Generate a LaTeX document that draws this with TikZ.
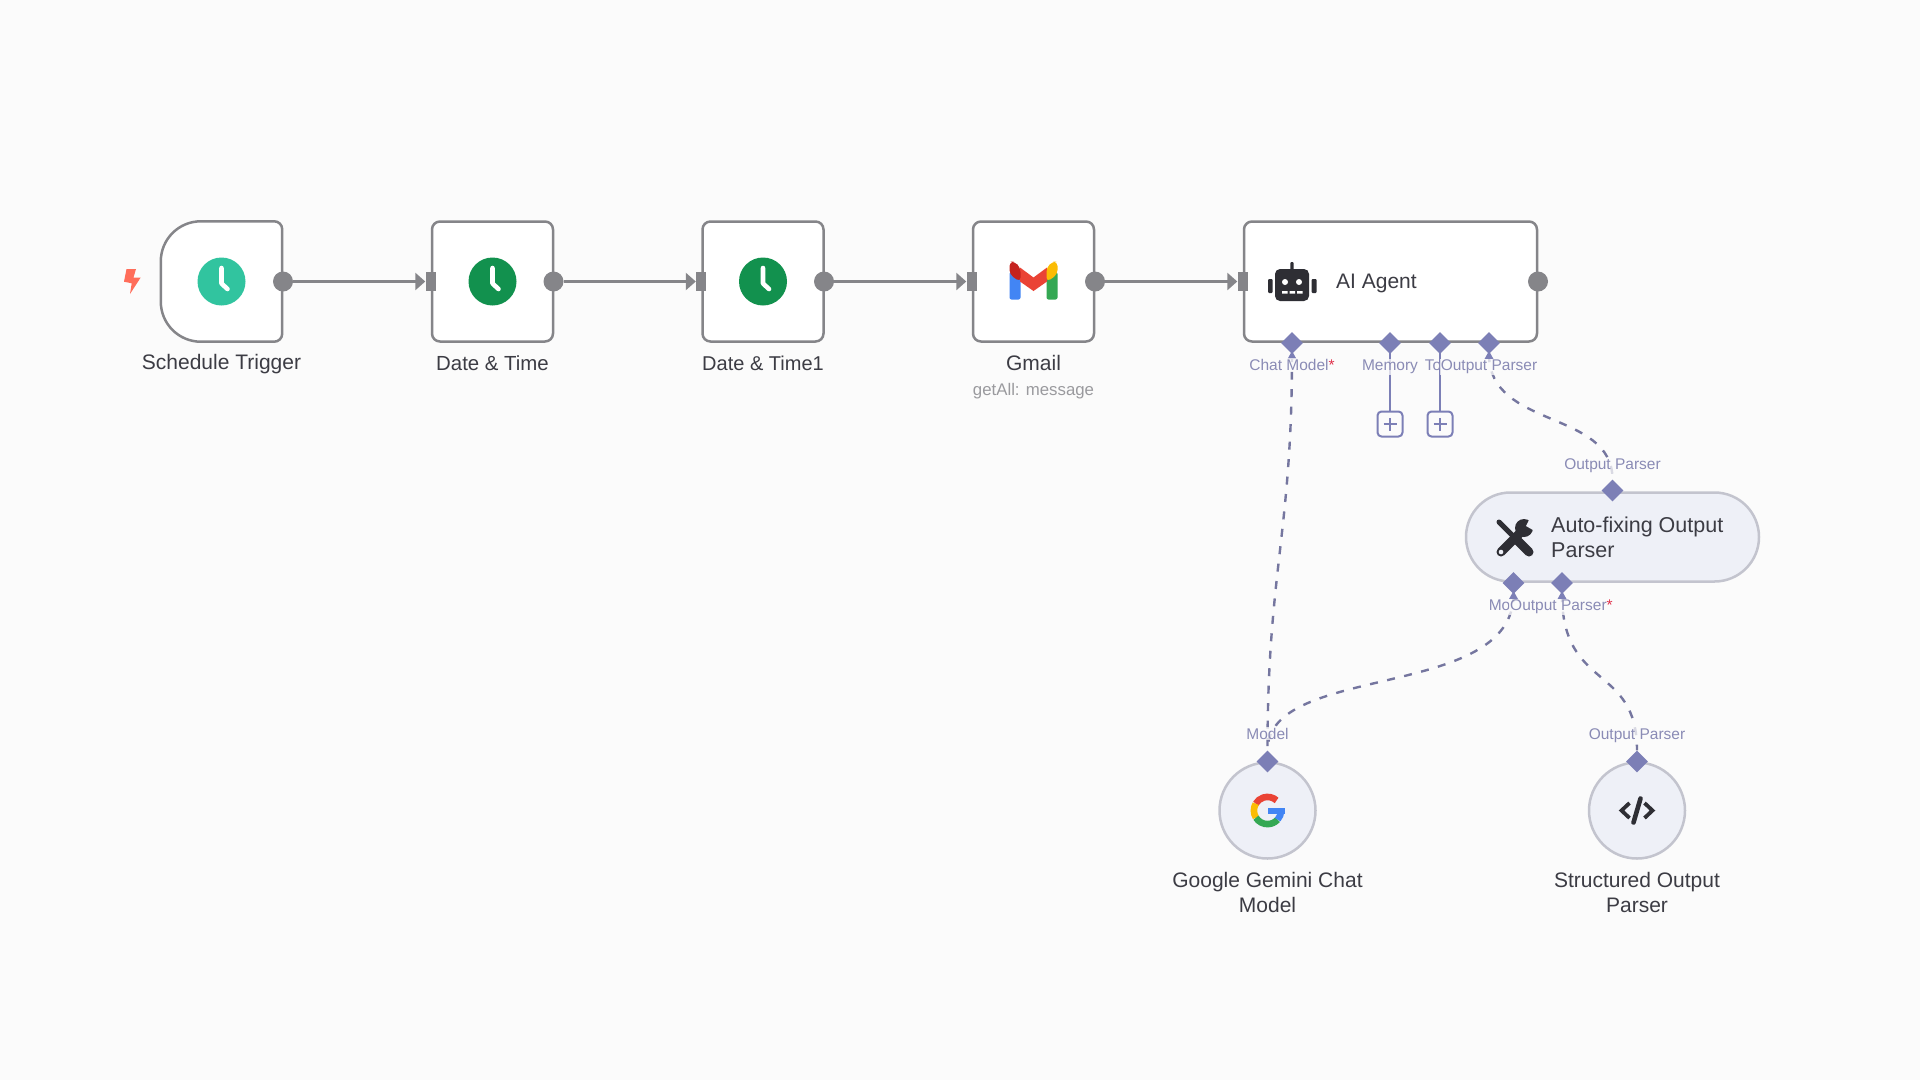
\documentclass[tikz,border=0pt]{standalone}
\usepackage{fontspec}
\setmainfont{Liberation Sans}
\usetikzlibrary{shapes.geometric,arrows.meta,backgrounds}
\definecolor{canvasbg}{HTML}{FBFBFB}
\definecolor{boxline}{HTML}{858589}
\definecolor{handle}{HTML}{7C7FB6}
\definecolor{dashcol}{HTML}{75769F}
\definecolor{hlabel}{HTML}{8A8BB5}
\definecolor{namecol}{HTML}{3C3C44}
\definecolor{subcol}{HTML}{9A9A9E}
\definecolor{subfill}{HTML}{EEF0F7}
\definecolor{subline}{HTML}{C3C4CE}
\definecolor{iconcol}{HTML}{2E2E34}
\definecolor{gred}{HTML}{EA4335}
\definecolor{gdred}{HTML}{C5221F}
\definecolor{gyellow}{HTML}{FBBC04}
\definecolor{ggreen}{HTML}{34A853}
\definecolor{gblue}{HTML}{4285F4}
\definecolor{boltcol}{HTML}{FF6D5A}
\definecolor{clockteal}{HTML}{31C49F}
\definecolor{clockgreen}{HTML}{12914E}
\definecolor{starcol}{HTML}{E0324B}
\newcommand{\handlestub}[1]{\fill[handle] ([shift={(-4.5,16)}]#1.center) -- ([shift={(4.5,16)}]#1.center) -- ([shift={(0,8)}]#1.center) -- cycle;}
\newcommand{\clockhands}[1]{\draw[white,line width=4.6pt,line cap=round,line join=round] ([shift={(0,-13.5)}]#1.center) -- ([shift={(0,2)}]#1.center) -- ([shift={(6,7.5)}]#1.center);}
\tikzset{
  x=1pt,y=-1pt,
  nodebox/.style={draw=boxline,fill=white,line width=2.5pt,rounded corners=8pt,minimum width=121pt,minimum height=120pt,inner sep=0pt},
  subpill/.style={draw=subline,fill=subfill,line width=2.5pt,rounded corners=44.5pt,minimum width=293pt,minimum height=89pt,inner sep=0pt},
  subcircle/.style={circle,draw=subline,fill=subfill,line width=2.5pt,minimum size=96pt,inner sep=0pt},
  outport/.style={circle,fill=boxline,minimum size=20pt,inner sep=0pt},
  inport/.style={rectangle,fill=boxline,minimum width=10pt,minimum height=19pt,inner sep=0pt},
  handlept/.style={diamond,fill=handle,minimum size=22pt,inner sep=0pt},
  plusbox/.style={draw=handle,fill=canvasbg,line width=2pt,rounded corners=4pt,minimum size=25pt,inner sep=0pt},
  flow/.style={draw=boxline,line width=2.5pt,-{Triangle[length=10pt,width=17pt]}},
  sublink/.style={draw=dashcol,line width=2.4pt,dash pattern=on 8pt off 9.5pt},
  nametxt/.style={text=namecol,font=\fontsize{21}{25}\selectfont,align=center,inner sep=0pt},
  subtxt/.style={text=subcol,font=\fontsize{16.8}{20}\selectfont,inner sep=0pt},
  hlab/.style={text=hlabel,font=\fontsize{15.5}{18}\selectfont,inner sep=1pt,fill=canvasbg,fill opacity=0.75,text opacity=1},
}
\begin{document}
\begin{tikzpicture}
\useasboundingbox (0,0) rectangle (1920,1080);
% main nodes
\node[minimum width=121pt,minimum height=120pt,inner sep=0pt] (st) at (221.5,281.5) {};
\draw[draw=boxline,fill=white,line width=2.5pt]
  ([xshift=40pt]st.north west) -- ([xshift=-8pt]st.north east)
  arc[start angle=90,end angle=0,radius=8pt] -- ([yshift=8pt]st.south east)
  arc[start angle=0,end angle=-90,radius=8pt] -- ([xshift=40pt]st.south west)
  arc[start angle=270,end angle=180,radius=40pt] -- ([yshift=-40pt]st.north west)
  arc[start angle=180,end angle=90,radius=40pt] -- cycle;
\node[nodebox] (dt) at (492.5,281.5) {};
\node[nodebox] (dt1) at (763,281.5) {};
\node[nodebox] (gm) at (1033.5,281.5) {};
\node[nodebox,minimum width=293pt] (ai) at (1390.5,281.5) {};
\node[subpill] (af) at (1612.5,537) {};
\node[subcircle] (gg) at (1267.5,810.5) {};
\node[subcircle] (so) at (1637,810.5) {};
% ports
\node[outport] (st-o) at (283,281.5) {};
\node[outport] (dt-o) at (553.5,281.5) {};
\node[outport] (dt1-o) at (824,281.5) {};
\node[outport] (gm-o) at (1095,281.5) {};
\node[outport] (ai-o) at (1538,281.5) {};
\node[inport] (dt-i) at (430.5,281.5) {};
\node[inport] (dt1-i) at (701,281.5) {};
\node[inport] (gm-i) at (971.5,281.5) {};
\node[inport] (ai-i) at (1242.5,281.5) {};
% handles
\node[handlept] (h-chat) at (1292,343) {};
\node[handlept] (h-mem) at (1390,343) {};
\node[handlept] (h-tool) at (1440,343) {};
\node[handlept] (h-out) at (1489,343) {};
\node[handlept] (af-t) at (1612.5,490.5) {};
\node[handlept] (af-m) at (1513.5,583) {};
\node[handlept] (af-p) at (1562,583) {};
\node[handlept] (gg-t) at (1267.5,761.5) {};
\node[handlept] (so-t) at (1637,761.5) {};
\node[plusbox] (pm) at (1390,424) {};
\node[plusbox] (pt) at (1440,424) {};
\draw[handle,line width=2pt] ([xshift=-6.5pt]pm.center) -- ([xshift=6.5pt]pm.center) ([yshift=-6.5pt]pm.center) -- ([yshift=6.5pt]pm.center);
\draw[handle,line width=2pt] ([xshift=-6.5pt]pt.center) -- ([xshift=6.5pt]pt.center) ([yshift=-6.5pt]pt.center) -- ([yshift=6.5pt]pt.center);
\handlestub{h-chat}
\handlestub{h-out}
\handlestub{af-m}
\handlestub{af-p}
% connectors under everything
\begin{scope}[on background layer]
\fill[canvasbg] (0,0) rectangle (1920,1080);
\draw[flow] (st-o) -- (dt-i);
\draw[flow] (dt-o) -- (dt1-i);
\draw[flow] (dt1-o) -- (gm-i);
\draw[flow] (gm-o) -- (ai-i);
\draw[handle,line width=2.4pt] (h-mem.center) -- (pm);
\draw[handle,line width=2.4pt] (h-tool.center) -- (pt);
\draw[sublink] (h-chat.south) .. controls +(0,180) and +(0,-180) .. (gg-t.north);
\draw[sublink] (h-out.south) .. controls +(0,75) and +(0,-70) .. (af-t.north);
\draw[sublink] (af-m.south) .. controls +(0,107) and +(0,-88) .. (gg-t.north);
\draw[sublink] (af-p.south) .. controls +(0,97) and +(0,-87) .. (so-t.north);
\end{scope}
% handle labels
\node[hlab,anchor=base] (l-chat) at (1292,370.5) {Chat Model\textcolor{starcol}{*}};
\node[hlab,anchor=base] (l-mem) at (1390,370.5) {Memory};
\node[hlab,fill=none,anchor=base east,inner xsep=0pt] (l-to) at (1441.5,370.5) {To};
\node[hlab,anchor=base] (l-out) at (1489,370.5) {Output Parser};
\node[hlab,anchor=base] (l-afout) at (1612.5,469.5) {Output Parser};
\node[hlab,fill=none,anchor=base east,inner xsep=0pt] (l-mo) at (1510.5,610.5) {Mo};
\node[hlab,anchor=base west] (l-afp) at (1509,610.5) {Output Parser\textcolor{starcol}{*}};
\node[hlab,anchor=base] (l-gg) at (1267.5,739) {Model};
\node[hlab,anchor=base] (l-so) at (1637,739) {Output Parser};
% names
\node[nametxt] (n-st) at (221.5,364) {Schedule Trigger};
\node[nametxt,font=\fontsize{20.4}{25}\selectfont] (n-dt) at (492.5,363) {Date \& Time};
\node[nametxt,font=\fontsize{20}{25}\selectfont] (n-dt1) at (763,363) {Date \& Time1};
\node[nametxt] (n-gm) at (1033.5,362.5) {Gmail};
\node[subtxt] (n-gms) at (1033.5,391) {getAll: message};
\node[nametxt,anchor=west] (n-ai) at (1336,283) {AI Agent};
\node[nametxt,anchor=west,align=left,font=\fontsize{21.5}{24.5}\selectfont] (n-af) at (1551,537.5) {Auto-fixing Output\\Parser};
\node[nametxt] (n-gg) at (1267.5,892.5) {Google Gemini Chat\\Model};
\node[nametxt] (n-so) at (1637,892.5) {Structured Output\\Parser};
% bolt
\fill[boltcol] (126.5,269) -- (136,269) -- (133.5,277.5) -- (140.7,277.5) -- (130,294) -- (131.7,283.3) -- (124,281.7) -- cycle;
% clocks
\fill[clockteal] (st.center) circle[radius=24pt];
\fill[clockgreen] (dt.center) circle[radius=24pt];
\fill[clockgreen] (dt1.center) circle[radius=24pt];
\clockhands{st}
\clockhands{dt}
\clockhands{dt1}
% gmail
\fill[gblue,rounded corners=2pt] (1009.5,272) rectangle (1020.5,299.5);
\fill[ggreen,rounded corners=2pt] (1046.5,272) rectangle (1057.5,299.5);
\fill[gred] (1020,267.5) -- (1033.5,277.5) -- (1047,267.5) -- (1047,281.5) -- (1033.5,291) -- (1020,281.5) -- cycle;
\fill[gdred,rounded corners=4.5pt] (1009.5,274.5) -- (1009.5,261.5) -- (1014.5,261.5) -- (1020.5,267.5) -- (1020.5,282) -- cycle;
\fill[gyellow,rounded corners=4.5pt] (1057.5,274.5) -- (1057.5,261.5) -- (1052.5,261.5) -- (1046.5,267.5) -- (1046.5,282) -- cycle;
% robot
\fill[iconcol,rounded corners=5pt] (1275,269) rectangle (1309,301);
\fill[iconcol,rounded corners=1pt] (1290.3,262) rectangle (1293.7,270);
\fill[iconcol,rounded corners=1pt] (1268,279) rectangle (1272.5,293);
\fill[iconcol,rounded corners=1pt] (1311.5,279) rectangle (1316.5,293);
\fill[white] (1285,282) circle[radius=3pt] (1299,282) circle[radius=3pt];
\fill[white] (1282,291) rectangle (1287.5,293.5) (1289.5,291) rectangle (1295,293.5) (1297,291) rectangle (1302.5,293.5);
% tools icon
\draw[iconcol,line width=5pt,line cap=round] (1499,522) -- (1515,538);
\draw[iconcol,line width=9pt,line cap=round] (1515,538) -- (1529,552);
\draw[iconcol,line width=9pt,line cap=round] (1501,552) -- (1522,531);
\fill[iconcol] (1524,528) circle[radius=9pt];
\fill[subfill] (1526,526) -- (1530.5,517) -- (1538,524.5) -- (1533,530) -- cycle;
\fill[subfill] (1501,552) circle[radius=2.3pt];
% code icon
\draw[iconcol,line width=3.8pt,line join=miter] (1629.5,803) -- (1621.5,810.5) -- (1629.5,818);
\draw[iconcol,line width=3.8pt,line join=miter] (1644.5,803) -- (1652.5,810.5) -- (1644.5,818);
\draw[iconcol,line width=4.6pt,line cap=round] (1640.5,798.5) -- (1633.5,822.5);
% google G
\draw[gred,line width=6.6pt] (1267.5,810.5) ++(48:13.6pt) arc[start angle=48,end angle=150,radius=13.6pt];
\draw[gyellow,line width=6.6pt] (1267.5,810.5) ++(150:13.6pt) arc[start angle=150,end angle=212,radius=13.6pt];
\draw[ggreen,line width=6.6pt] (1267.5,810.5) ++(212:13.6pt) arc[start angle=212,end angle=318,radius=13.6pt];
\draw[gblue,line width=6.6pt] (1267.5,810.5) ++(318:13.6pt) arc[start angle=318,end angle=360,radius=13.6pt];
\fill[gblue] (1268,807.5) rectangle (1284.5,814);
\end{tikzpicture}
\end{document}
